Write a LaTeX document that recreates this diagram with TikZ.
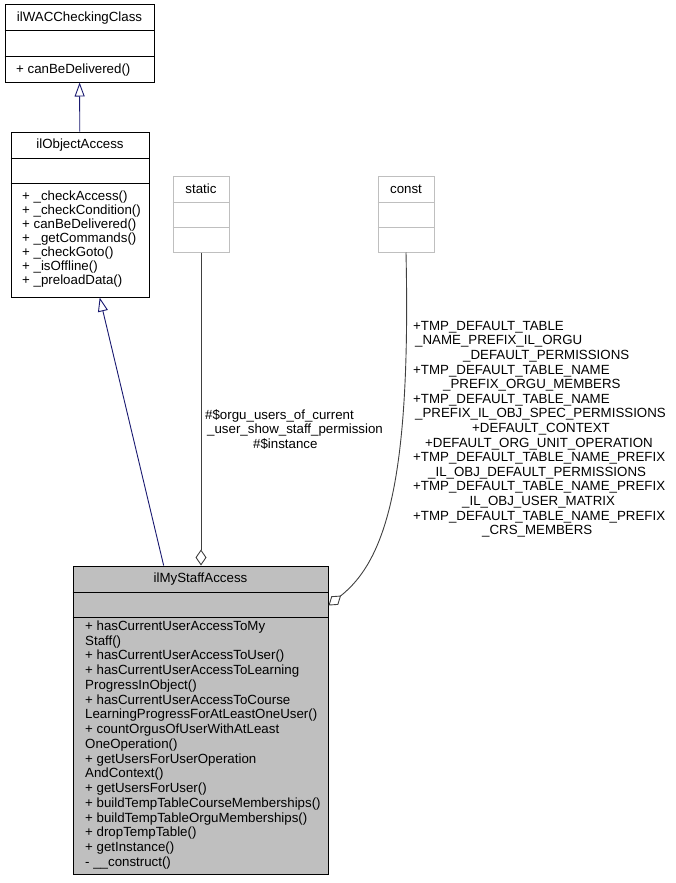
\documentclass[tikz,border=0pt]{standalone}
\usepackage{fontspec}
\setmainfont{Liberation Sans}
\usetikzlibrary{arrows.meta}

\begin{document}
\begin{tikzpicture}[x=1pt,y=-1pt]
\tikzset{
  classbox/.style={draw=black,line width=1pt,fill=white,inner sep=0pt},
  greybox/.style={draw=black!25,line width=1pt,fill=white,inner sep=0pt},
  classline/.style={draw=black,line width=1pt},
  greyline/.style={draw=black!25,line width=1pt},
  classtext/.style={inner sep=0pt,font=\fontsize{13.3}{14}\selectfont},
  members/.style={classtext,align=left,anchor=north west},
  edgelabel/.style={inner sep=0pt,align=left,anchor=north west,font=\fontsize{13.3}{14.6}\selectfont},
  inherits/.style={draw=midnight,line width=0.9pt,-{Triangle[open,length=14pt,width=10pt]}},
  composes/.style={draw=darkgrey,line width=0.9pt,-{Diamond[open,length=16pt,width=11pt]}}
}
\definecolor{midnight}{HTML}{191970}
\definecolor{darkgrey}{HTML}{404040}
\useasboundingbox (0,0) rectangle (675,883);
% classes
\node[classbox,minimum width=149pt,minimum height=77pt] (n_wac) at (79.5,43.5) {};
\node[classtext] (t_wac) at (79.5,18) {ilWACCheckingClass};
\draw[classline] (n_wac.west |- 0,31) -- (n_wac.east |- 0,31);
\draw[classline] (n_wac.west |- 0,57) -- (n_wac.east |- 0,57);
\node[members] (m_wac) at (16,64) {+ canBeDelivered()};

\node[classbox,minimum width=138pt,minimum height=165pt] (n_objacc) at (80,214.5) {};
\node[classtext] (t_objacc) at (80,145) {ilObjectAccess};
\draw[classline] (n_objacc.west |- 0,158) -- (n_objacc.east |- 0,158);
\draw[classline] (n_objacc.west |- 0,183) -- (n_objacc.east |- 0,183);
\node[members] (m_objacc) at (22,190.5) {+ \_checkAccess()\\+ \_checkCondition()\\+ canBeDelivered()\\+ \_getCommands()\\+ \_checkGoto()\\+ \_isOffline()\\+ \_preloadData()};

\node[greybox,minimum width=56pt,minimum height=76pt] (n_static) at (201,214) {};
\node[classtext] (t_static) at (201,189) {static};
\draw[greyline] (n_static.west |- 0,202) -- (n_static.east |- 0,202);
\draw[greyline] (n_static.west |- 0,227) -- (n_static.east |- 0,227);

\node[greybox,minimum width=56pt,minimum height=76pt] (n_const) at (406,214) {};
\node[classtext] (t_const) at (406,189) {const};
\draw[greyline] (n_const.west |- 0,202) -- (n_const.east |- 0,202);
\draw[greyline] (n_const.west |- 0,227) -- (n_const.east |- 0,227);

\node[classbox,fill=black!25,minimum width=255pt,minimum height=308pt] (n_staff) at (200.5,720) {};
\node[classtext] (t_staff) at (200.5,579) {ilMyStaffAccess};
\draw[classline] (n_staff.west |- 0,592) -- (n_staff.east |- 0,592);
\draw[classline] (n_staff.west |- 0,617) -- (n_staff.east |- 0,617);
\node[members,font=\fontsize{13.3}{14.75}\selectfont] (m_staff) at (85,620.5) {+ hasCurrentUserAccessToMy\\Staff()\\+ hasCurrentUserAccessToUser()\\+ hasCurrentUserAccessToLearning\\ProgressInObject()\\+ hasCurrentUserAccessToCourse\\LearningProgressForAtLeastOneUser()\\+ countOrgusOfUserWithAtLeast\\OneOperation()\\+ getUsersForUserOperation\\AndContext()\\+ getUsersForUser()\\+ buildTempTableCourseMemberships()\\+ buildTempTableOrguMemberships()\\+ dropTempTable()\\+ getInstance()\\- \_\_construct()};

% edges
\draw[inherits] (n_objacc) -- (n_wac);
\draw[inherits] (n_staff) -- (n_objacc);
\draw[composes] (n_static) -- (n_static |- n_staff.north);
\draw[composes] (n_const.south) .. controls (411,480) and (386,560) .. ([yshift=-40pt]n_staff.north east);

% edge labels
\node[edgelabel] (l_static) at (205,409) {\#\$orgu\_users\_of\_current\\\hspace*{2pt}\_user\_show\_staff\_permission\\\hspace*{48pt}\#\$instance};
\node[edgelabel] (l_const) at (413,321) {+TMP\_DEFAULT\_TABLE\\\hspace*{2pt}\_NAME\_PREFIX\_IL\_ORGU\\\hspace*{50pt}\_DEFAULT\_PERMISSIONS\\+TMP\_DEFAULT\_TABLE\_NAME\\\hspace*{30pt}\_PREFIX\_ORGU\_MEMBERS\\+TMP\_DEFAULT\_TABLE\_NAME\\\hspace*{2pt}\_PREFIX\_IL\_OBJ\_SPEC\_PERMISSIONS\\\hspace*{59pt}+DEFAULT\_CONTEXT\\\hspace*{12pt}+DEFAULT\_ORG\_UNIT\_OPERATION\\+TMP\_DEFAULT\_TABLE\_NAME\_PREFIX\\\hspace*{15pt}\_IL\_OBJ\_DEFAULT\_PERMISSIONS\\+TMP\_DEFAULT\_TABLE\_NAME\_PREFIX\\\hspace*{49pt}\_IL\_OBJ\_USER\_MATRIX\\+TMP\_DEFAULT\_TABLE\_NAME\_PREFIX\\\hspace*{69pt}\_CRS\_MEMBERS};
\end{tikzpicture}
\end{document}
